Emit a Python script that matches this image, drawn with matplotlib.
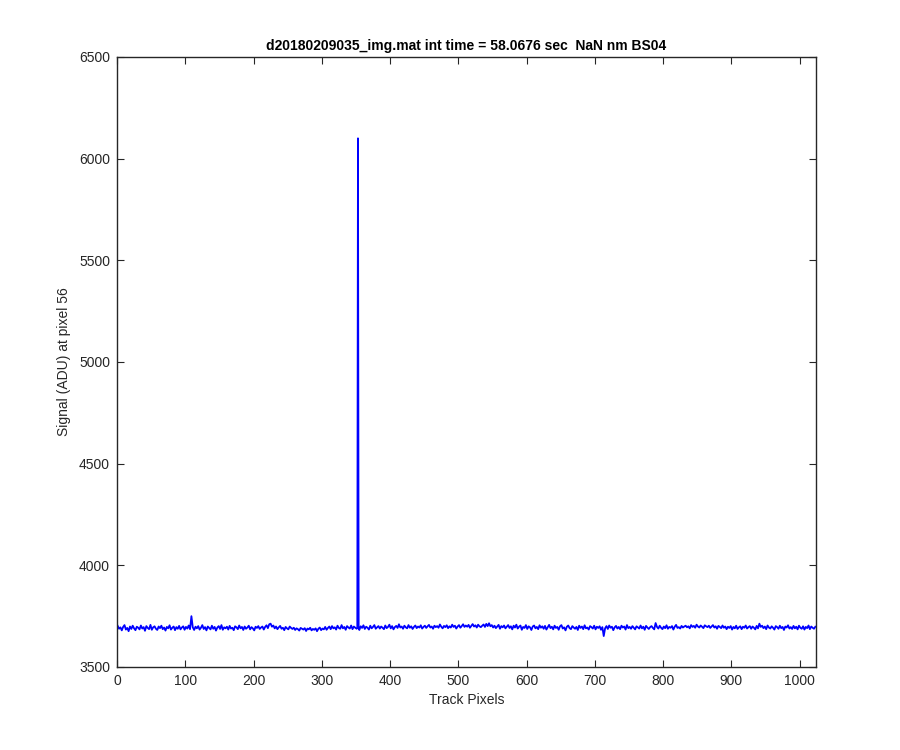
import matplotlib
matplotlib.use("Agg")
import matplotlib.pyplot as plt
import numpy as np

plt.rcParams['font.family'] = ['Liberation Sans', 'DejaVu Sans']

# Track pixel positions (every 2nd pixel) and the signal read at each
track_pixels = list(range(1, 1025, 2))
signal = [
    3702, 3688, 3695, 3680, 3697, 3706, 3684, 3692, 3676, 3699, 3687, 3703, 3690, 3681, 3698, 3693,
    3685, 3704, 3689, 3696, 3678, 3701, 3692, 3686, 3707, 3683, 3695, 3700, 3688, 3682, 3699, 3691,
    3703, 3686, 3694, 3679, 3697, 3690, 3705, 3684, 3693, 3699, 3681, 3696, 3688, 3702, 3685, 3694,
    3700, 3683, 3697, 3689, 3704, 3686, 3750, 3695, 3682, 3698, 3690, 3701, 3684, 3693, 3706, 3687,
    3696, 3680, 3699, 3692, 3685, 3703, 3688, 3697, 3679, 3694, 3701, 3687, 3706, 3683, 3695, 3690,
    3698, 3684, 3702, 3689, 3693, 3681, 3700, 3695, 3686, 3704, 3690, 3697, 3682, 3699, 3688, 3694,
    3703, 3685, 3696, 3690, 3680, 3698, 3692, 3701, 3687, 3694, 3699, 3684, 3697, 3705, 3691, 3710,
    3713, 3698, 3704, 3690, 3699, 3686, 3695, 3702, 3688, 3693, 3681, 3697, 3690, 3685, 3699, 3692,
    3687, 3693, 3682, 3690, 3686, 3679, 3692, 3688, 3684, 3691, 3677, 3689, 3685, 3693, 3680, 3687,
    3683, 3690, 3676, 3688, 3694, 3681, 3689, 3685, 3697, 3683, 3692, 3699, 3686, 3701, 3690, 3695,
    3684, 3703, 3692, 3688, 3706, 3690, 3697, 3683, 3701, 3694, 3689, 3704, 3686, 3699, 3693, 3688,
    6100, 3682, 3700, 3692, 3705, 3687, 3698, 3693, 3684, 3703, 3690, 3697, 3706, 3688, 3695, 3701,
    3689, 3699, 3693, 3686, 3704, 3691, 3697, 3708, 3690, 3701, 3685, 3696, 3702, 3692, 3710, 3694,
    3699, 3688, 3703, 3695, 3690, 3706, 3693, 3700, 3687, 3697, 3704, 3691, 3699, 3694, 3705, 3689,
    3697, 3703, 3692, 3700, 3707, 3694, 3699, 3688, 3703, 3696, 3701, 3693, 3709, 3698, 3690, 3702,
    3696, 3705, 3691, 3700, 3694, 3708, 3697, 3703, 3689, 3699, 3706, 3693, 3701, 3710, 3697, 3704,
    3698, 3707, 3693, 3702, 3711, 3699, 3705, 3694, 3708, 3700, 3696, 3703, 3709, 3697, 3712, 3701,
    3715, 3700, 3706, 3694, 3703, 3691, 3699, 3707, 3688, 3701, 3695, 3704, 3690, 3698, 3706, 3692,
    3700, 3685, 3703, 3694, 3708, 3689, 3698, 3704, 3683, 3697, 3692, 3706, 3687, 3700, 3695, 3682,
    3699, 3704, 3690, 3697, 3686, 3705, 3693, 3700, 3688, 3702, 3684, 3696, 3707, 3691, 3698, 3685,
    3703, 3692, 3697, 3683, 3700, 3706, 3689, 3695, 3680, 3698, 3704, 3691, 3686, 3701, 3694, 3688,
    3697, 3682, 3703, 3692, 3699, 3686, 3705, 3690, 3694, 3684, 3701, 3696, 3689, 3703, 3685, 3698,
    3692, 3700, 3683, 3696, 3652, 3690, 3701, 3687, 3704, 3693, 3698, 3681, 3695, 3702, 3689, 3697,
    3686, 3703, 3694, 3699, 3684, 3706, 3691, 3697, 3688, 3701, 3693, 3685, 3700, 3695, 3689, 3704,
    3690, 3698, 3683, 3702, 3694, 3687, 3696, 3701, 3692, 3685, 3716, 3697, 3689, 3703, 3693, 3686,
    3699, 3691, 3705, 3688, 3697, 3693, 3701, 3684, 3698, 3707, 3692, 3696, 3689, 3702, 3694, 3699,
    3703, 3695, 3700, 3690, 3706, 3697, 3702, 3693, 3708, 3699, 3694, 3704, 3698, 3691, 3705, 3700,
    3696, 3703, 3692, 3699, 3706, 3694, 3700, 3688, 3702, 3697, 3691, 3704, 3693, 3699, 3686, 3698,
    3692, 3701, 3684, 3697, 3690, 3703, 3687, 3695, 3700, 3686, 3698, 3693, 3704, 3689, 3696, 3701,
    3688, 3699, 3693, 3685, 3702, 3690, 3713, 3697, 3703, 3691, 3699, 3686, 3704, 3694, 3689, 3700,
    3693, 3684, 3701, 3696, 3688, 3703, 3691, 3697, 3682, 3699, 3694, 3705, 3689, 3696, 3687, 3702,
    3690, 3698, 3685, 3703, 3693, 3688, 3700, 3684, 3697, 3691, 3704, 3686, 3699, 3693, 3688, 3698,
]
# the pixels right beside the spike
spike_side_pixels = [352, 354]
spike_side_signal = [3694, 3689]

x_ticks = [0, 100, 200, 300, 400, 500, 600, 700, 800, 900, 1000]
y_ticks = [3500, 4000, 4500, 5000, 5500, 6000, 6500]

title = "d20180209035_img.mat int time = 58.0676 sec  NaN nm BS04"
xlabel = "Track Pixels"
ylabel = "Signal (ADU) at pixel 56"

dark = (0.15, 0.15, 0.15)

pix = np.array(track_pixels + spike_side_pixels)
sig = np.array(signal + spike_side_signal)
order = np.argsort(pix, kind='stable')
pix, sig = pix[order], sig[order]

fig = plt.figure(figsize=(9, 7.5), dpi=100)
ax = fig.add_axes([0.13, 0.1107, 0.7767, 0.8133])
ax.plot(pix, sig, color=(0, 0, 1), linewidth=1.3)

ax.set_xlim(0, 1024)
ax.set_ylim(3500, 6500)
ax.set_xticks(x_ticks)
ax.set_yticks(y_ticks)
ax.tick_params(direction='in', top=True, right=True, length=5, width=0.8,
               labelsize=10, colors=dark, pad=5)
for s in ax.spines.values():
    s.set_color(dark)
    s.set_linewidth(1.0)
ax.set_xlabel(xlabel, fontsize=10, color=dark, labelpad=4)
ax.set_ylabel(ylabel, fontsize=10, color=dark, labelpad=6)
ax.set_title(title, fontsize=10, fontweight='bold', color='black', pad=5)

fig.savefig("out.png", dpi=100, facecolor='white')
